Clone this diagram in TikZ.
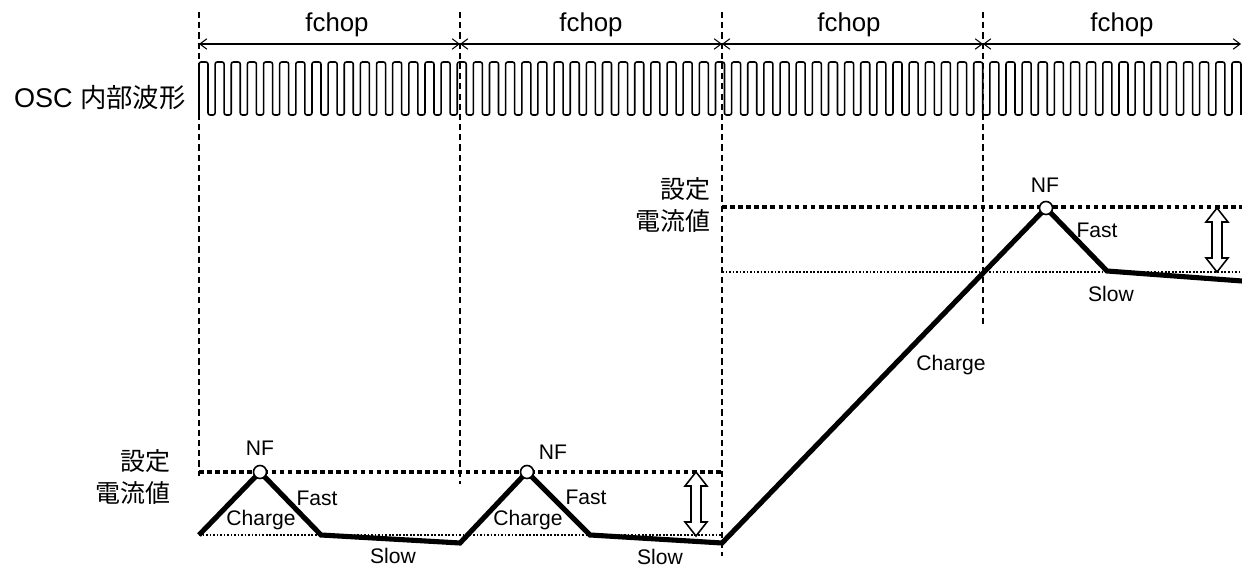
\documentclass[tikz,border=0pt]{standalone}
\usepackage{fontspec}
\setmainfont{Liberation Sans}
\newfontfamily\jp{Noto Sans CJK JP}
\usetikzlibrary{arrows.meta}

\begin{document}
\begin{tikzpicture}[x=0.02cm, y=-0.02cm,
        divider/.style={line width=0.7pt, dash pattern=on 3.5pt off 2.3pt},
        span/.style={line width=0.6pt, {Straight Barb[length=4pt,width=6pt]}-{Straight Barb[length=4pt,width=6pt]}},
        pulse/.style={line width=0.9pt, rounded corners=1.2pt},
        setpt/.style={line width=2.3pt, dash pattern=on 2.6pt off 2pt},
        floor/.style={line width=1pt, dash pattern=on 1pt off 1pt},
        coil/.style={line width=2.9pt},
        nfdot/.style={draw, circle, fill=white, line width=0.9pt, minimum size=7.4pt, inner sep=0pt},
        chop/.style={font=\fontsize{14.7}{17}\selectfont, inner sep=0pt},
        lbl/.style={font=\fontsize{12}{14}\selectfont, inner sep=0pt},
        setlbl/.style={font=\jp\fontsize{14.2}{18.7}\selectfont, align=right, anchor=east, inner sep=0pt},
        dblarrow/.pic={
            \draw[line width=0.9pt, fill=white] (0,0) -- (11,14) -- (5,14) -- (5,50) -- (11,50) -- (0,64)
                -- (-11,50) -- (-5,50) -- (-5,14) -- (-11,14) -- cycle;
        }]
    \useasboundingbox (0,0) rectangle (1242,567);

    \coordinate (t1) at (199,12);   \coordinate (b1) at (199,476);
    \coordinate (t2) at (460,12);   \coordinate (b2) at (460,484);
    \coordinate (t3) at (722,12);   \coordinate (b3) at (722,556);
    \coordinate (t4) at (983,12);   \coordinate (b4) at (983,327);

    \foreach \t/\b in {t1/b1, t2/b2, t3/b3, t4/b4}
        \draw[divider] (\t) -- (\b);

    \coordinate (a1) at (199,44);
    \coordinate (a2) at (460,44);
    \coordinate (a3) at (722,44);
    \coordinate (a4) at (983,44);
    \coordinate (a5) at (1241,44);

    \foreach \p/\q in {a1/a2, a2/a3, a3/a4, a4/a5}
        \draw[span] (\p) -- (\q);

    \node[chop] (fc1) at (337,25)  {fchop};
    \node[chop] (fc2) at (591,25)  {fchop};
    \node[chop] (fc3) at (849,25)  {fchop};
    \node[chop] (fc4) at (1122,25) {fchop};

    \node[anchor=east, inner sep=0pt, font=\fontsize{15.4}{18}\selectfont] (osc) at (186,98)
        {OSC {\jp\fontsize{15}{18}\selectfont 内部波形}};

    \draw[pulse] (199,115) \foreach \i in {1,...,64} { -- ++(0,-53) -- ++(9,0) -- ++(0,53) -- ++(7.14,0) }
        -- ++(0,-53) -- ++(9,0) -- ++(0,53);

    \draw[setpt] (199,472) -- (722,472);
    \draw[setpt] (722,207) -- (1242,207);
    \draw[floor] (199,535) -- (722,535);
    \draw[floor] (722,272) -- (1242,272);

    \coordinate (c0) at (199,535);
    \coordinate (p1) at (260,472);
    \coordinate (f1) at (321,535);
    \coordinate (s1) at (460,543);
    \coordinate (p2) at (527,472);
    \coordinate (f2) at (590,535);
    \coordinate (s2) at (722,543);
    \coordinate (p3) at (1046,208);
    \coordinate (f3) at (1107,271);
    \coordinate (s3) at (1242,281);

    \draw[coil] (c0) -- (p1) -- (f1) -- (s1) -- (p2) -- (f2) -- (s2) -- (p3) -- (f3) -- (s3);

    \node[nfdot] (nf1) at (p1) {};
    \node[nfdot] (nf2) at (p2) {};
    \node[nfdot] (nf3) at (p3) {};

    \pic at (696,472) {dblarrow};
    \pic at (1217,208) {dblarrow};

    \node[setlbl] (set1) at (171,477) {設定\\電流値};
    \node[setlbl] (set2) at (711,205) {設定\\電流値};

    \node[lbl] (nfl1) at (260,448) {NF};
    \node[lbl] (nfl2) at (553,452) {NF};
    \node[lbl] (nfl3) at (1045,185) {NF};

    \node[lbl] (fa1) at (317,498) {Fast};
    \node[lbl] (fa2) at (586,497) {Fast};
    \node[lbl] (fa3) at (1097,230) {Fast};

    \node[lbl] (ch1) at (261,520) {Charge};
    \node[lbl] (ch2) at (528,520) {Charge};
    \node[lbl] (ch3) at (951,365) {Charge};

    \node[lbl] (sl1) at (393,556) {Slow};
    \node[lbl] (sl2) at (660,557) {Slow};
    \node[lbl] (sl3) at (1111,294) {Slow};
\end{tikzpicture}
\end{document}
